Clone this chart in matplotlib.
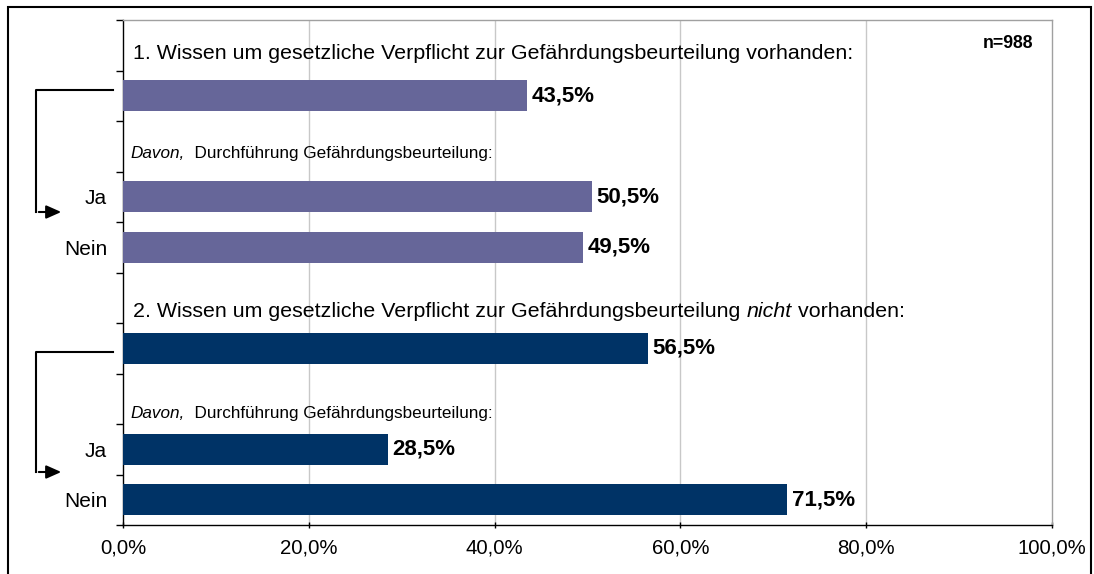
import matplotlib
matplotlib.use("Agg")
import matplotlib.pyplot as plt
from matplotlib.patches import Rectangle, FancyArrowPatch
from matplotlib.lines import Line2D

plt.rcParams['font.family'] = ['Liberation Sans', 'DejaVu Sans']

# ---- data ----
slot_labels = ["", "", "", "Ja", "Nein", "", "", "", "Ja", "Nein"]
bar_slots = [1, 3, 4, 6, 8, 9]
bar_values = [43.5, 50.5, 49.5, 56.5, 28.5, 71.5]
bar_colors = ["#666699", "#666699", "#666699", "#003366", "#003366", "#003366"]
x_ticks = [0, 20, 40, 60, 80, 100]
x_ticklabels = ["0,0%", "20,0%", "40,0%", "60,0%", "80,0%", "100,0%"]
header1 = "1. Wissen um gesetzliche Verpflicht zur Gefährdungsbeurteilung vorhanden:"
header2_a = "2. Wissen um gesetzliche Verpflicht zur Gefährdungsbeurteilung "
header2_b = "nicht"
header2_c = " vorhanden:"
davon_a = "Davon,"
davon_b = "  Durchführung Gefährdungsbeurteilung:"
n_text = "n=988"

W, H = 1094, 574
fig = plt.figure(figsize=(W / 100, H / 100), dpi=100)

def fx(px):
    return px / W

def fy(py):
    return 1 - py / H

ax_l, ax_r, ax_t, ax_b = 123, 1052, 20, 525
ax = fig.add_axes([fx(ax_l), fy(ax_b), fx(ax_r - ax_l), (ax_b - ax_t) / H])

ax.barh(bar_slots, bar_values, height=0.62, color=bar_colors, zorder=3)
ax.set_xlim(0, 100)
ax.set_ylim(9.5, -0.5)

ax.set_xticks(x_ticks)
ax.set_xticklabels(x_ticklabels, fontsize=14.7)
ax.set_yticks(range(10))
ax.set_yticklabels(slot_labels, fontsize=15)
ax.set_yticks([i - 0.5 for i in range(11)], minor=True)
ax.tick_params(axis='y', which='major', length=0, pad=11.5)
ax.tick_params(axis='y', which='minor', length=5, width=1, direction='out')
ax.tick_params(axis='x', which='major', length=5, width=1, direction='inout', pad=7)

for x in x_ticks[1:-1]:
    ax.axvline(x, color="#c8c8c8", lw=1, zorder=1)

for s in ['top', 'right']:
    ax.spines[s].set_color("#a0a0a0")
    ax.spines[s].set_linewidth(1)
for s in ['left', 'bottom']:
    ax.spines[s].set_color("#000000")
    ax.spines[s].set_linewidth(1)

for s, v in zip(bar_slots, bar_values):
    ax.text(v + 0.5, s, f"{v:.1f}%".replace(".", ","), va='center', ha='left',
            fontsize=16, fontweight='bold', zorder=4)

# headers
ax.text(1.1, 0.17, header1, fontsize=15.4, va='center', ha='left')
t = ax.text(1.1, 5.27, header2_a, fontsize=15.4, va='center', ha='left')
t2 = ax.annotate(header2_b, xy=(1, 0.5), xycoords=t, fontsize=15.4, va='center', ha='left', style='italic')
ax.annotate(header2_c, xy=(1, 0.5), xycoords=t2, fontsize=15.4, va='center', ha='left')

for yy in (2.15, 7.3):
    d = ax.text(0.8, yy, davon_a, fontsize=12.3, va='center', ha='left', style='italic')
    ax.annotate(davon_b, xy=(1, 0.5), xycoords=d, fontsize=12.3, va='center', ha='left')

ax.text(0.98, 0.953, n_text, transform=ax.transAxes, fontsize=12.7, fontweight='bold',
        ha='right', va='center')

# outer frame
fig.add_artist(Rectangle((fx(8), fy(600)), fx(1091 - 8), (600 - 7) / H, fill=False,
                         edgecolor='black', lw=1.5, transform=fig.transFigure))

# bracket arrows
for top_y, bot_y in ((90, 212), (352, 472)):
    fig.add_artist(Line2D([fx(113), fx(36), fx(36)], [fy(top_y), fy(top_y), fy(bot_y)],
                          color='black', lw=1.5, transform=fig.transFigure))
    fig.add_artist(FancyArrowPatch((fx(36), fy(bot_y)), (fx(64), fy(bot_y)),
                                   transform=fig.transFigure, arrowstyle='-|>,head_length=9,head_width=4',
                                   color='black', lw=1.5, mutation_scale=1))

fig.savefig("out.png", dpi=100)
